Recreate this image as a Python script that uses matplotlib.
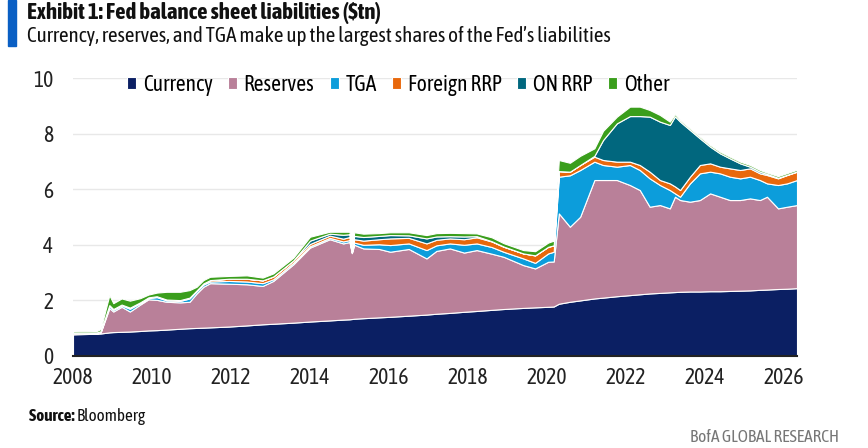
import matplotlib
matplotlib.use("Agg")
import matplotlib.pyplot as plt
from matplotlib.patches import Rectangle
import numpy as np

plt.rcParams['font.family'] = ['Asap Condensed', 'Archivo Narrow', 'DejaVu Sans']

# dates as decimal years
dates = [2008.00, 2008.60, 2008.70, 2008.92, 2009.02, 2009.23, 2009.44, 2009.70, 2009.91,
         2010.12, 2010.37, 2010.71, 2010.95, 2011.13, 2011.30, 2011.47, 2011.95, 2012.40,
         2012.80, 2013.07, 2013.58, 2014.00, 2014.50, 2014.84, 2015.00, 2015.06, 2015.12,
         2015.35, 2015.75, 2016.03, 2016.50, 2016.95, 2017.20, 2017.54, 2017.90, 2018.22,
         2018.60, 2018.90, 2019.40, 2019.70, 2020.03, 2020.17, 2020.30, 2020.58, 2020.84,
         2021.20, 2021.42, 2021.77, 2022.10, 2022.35, 2022.60, 2022.86, 2023.11, 2023.24,
         2023.37, 2023.62, 2023.87, 2024.13, 2024.38, 2024.63, 2024.89, 2025.14, 2025.39,
         2025.57, 2025.85, 2026.08, 2026.33]

# $tn
currency = [0.78, 0.80, 0.81, 0.85, 0.86, 0.87, 0.88, 0.90, 0.92,
            0.93, 0.95, 0.98, 1.00, 1.01, 1.02, 1.03, 1.06, 1.10,
            1.14, 1.16, 1.20, 1.24, 1.28, 1.31, 1.32, 1.33, 1.34,
            1.36, 1.39, 1.41, 1.45, 1.49, 1.52, 1.55, 1.59, 1.62,
            1.66, 1.69, 1.73, 1.75, 1.77, 1.78, 1.88, 1.95, 2.00,
            2.07, 2.10, 2.15, 2.19, 2.22, 2.25, 2.27, 2.29, 2.30,
            2.31, 2.32, 2.32, 2.33, 2.33, 2.34, 2.35, 2.36, 2.38,
            2.39, 2.41, 2.42, 2.44]
reserves = [0.01, 0.01, 0.04, 0.87, 0.74, 0.90, 0.72, 0.95, 1.12,
            1.09, 1.00, 0.95, 0.95, 1.24, 1.47, 1.59, 1.54, 1.48,
            1.38, 1.54, 2.10, 2.66, 2.92, 2.74, 2.78, 2.37, 2.66,
            2.51, 2.46, 2.34, 2.40, 2.02, 2.26, 2.32, 2.13, 2.19,
            2.02, 1.88, 1.54, 1.40, 1.62, 1.62, 3.25, 2.70, 3.01,
            4.26, 4.23, 4.18, 3.96, 3.75, 3.12, 3.16, 3.02, 3.43,
            3.30, 3.23, 3.29, 3.52, 3.40, 3.27, 3.26, 3.31, 3.23,
            3.34, 2.90, 2.95, 2.99]
tga = [0.01, 0.01, 0.01, 0.08, 0.06, 0.05, 0.10, 0.05, 0.04,
       0.10, 0.05, 0.05, 0.12, 0.08, 0.08, 0.06, 0.10, 0.10,
       0.10, 0.06, 0.06, 0.05, 0.05, 0.07, 0.07, 0.02, 0.08,
       0.13, 0.17, 0.24, 0.20, 0.30, 0.20, 0.18, 0.28, 0.24,
       0.24, 0.18, 0.24, 0.20, 0.30, 0.35, 1.32, 1.85, 1.68,
       0.66, 0.54, 0.48, 0.72, 0.72, 1.02, 0.72, 0.66, 0.12,
       0.12, 0.66, 0.96, 0.78, 0.84, 0.84, 0.78, 0.78, 0.72,
       0.48, 0.84, 0.84, 0.90]
foreign_rrp = [0.03, 0.03, 0.03, 0.03, 0.03, 0.03, 0.04, 0.03, 0.03,
               0.03, 0.03, 0.03, 0.03, 0.03, 0.04, 0.05, 0.08, 0.10,
               0.10, 0.10, 0.08, 0.08, 0.08, 0.10, 0.11, 0.01, 0.12,
               0.15, 0.18, 0.24, 0.20, 0.24, 0.20, 0.18, 0.20, 0.22,
               0.20, 0.18, 0.18, 0.27, 0.24, 0.23, 0.20, 0.13, 0.18,
               0.18, 0.18, 0.18, 0.12, 0.18, 0.24, 0.18, 0.24, 0.25,
               0.24, 0.24, 0.30, 0.30, 0.24, 0.30, 0.30, 0.30, 0.24,
               0.30, 0.24, 0.30, 0.30]
on_rrp = [0.00, 0.00, 0.00, 0.00, 0.00, 0.00, 0.00, 0.00, 0.00,
          0.00, 0.00, 0.00, 0.00, 0.00, 0.00, 0.00, 0.00, 0.00,
          0.00, 0.00, 0.00, 0.12, 0.07, 0.14, 0.10, 0.01, 0.12,
          0.13, 0.12, 0.12, 0.09, 0.18, 0.12, 0.08, 0.10, 0.04,
          0.01, 0.01, 0.00, 0.00, 0.00, 0.00, 0.00, 0.00, 0.00,
          0.03, 0.72, 1.38, 1.64, 1.76, 1.98, 2.10, 2.10, 2.52,
          2.46, 1.68, 0.96, 0.60, 0.48, 0.36, 0.24, 0.06, 0.06,
          0.04, 0.02, 0.01, 0.01]
other = [0.05, 0.05, 0.08, 0.36, 0.21, 0.22, 0.25, 0.15, 0.10,
         0.13, 0.28, 0.30, 0.27, 0.13, 0.12, 0.12, 0.10, 0.12,
         0.10, 0.11, 0.10, 0.14, 0.07, 0.11, 0.09, 0.02, 0.13,
         0.12, 0.10, 0.10, 0.11, 0.12, 0.12, 0.12, 0.12, 0.10,
         0.14, 0.12, 0.12, 0.15, 0.15, 0.17, 0.40, 0.32, 0.33,
         0.27, 0.33, 0.24, 0.34, 0.34, 0.24, 0.24, 0.12, 0.08,
         0.06, 0.06, 0.06, 0.06, 0.06, 0.06, 0.06, 0.06, 0.06,
         0.05, 0.06, 0.06, 0.06]

labels = ['Currency', 'Reserves', 'TGA', 'Foreign RRP', 'ON RRP', 'Other']
colors = ['#0b1f63', '#b98099', '#0c9ddb', '#e8680c', '#01677e', '#3a9e1c']
year_ticks = [2008, 2010, 2012, 2014, 2016, 2018, 2020, 2022, 2024, 2026]

fig = plt.figure(figsize=(8.68, 4.48), dpi=100)
ax = fig.add_axes([73 / 868, 1 - 356 / 448, (797 - 73) / 868, (356 - 78) / 448])

ax.stackplot(dates, currency, reserves, tga, foreign_rrp, on_rrp, other,
             labels=labels, colors=colors, edgecolor='white', linewidth=0.8, zorder=2)

ax.set_xlim(2008, 2026.33)
ax.set_ylim(0, 10)
ax.set_yticks([0, 2, 4, 6, 8, 10])
ax.set_xticks(year_ticks)
ax.grid(axis='y', color='#e8e8e8', linewidth=1, zorder=0)
ax.set_axisbelow(True)
for side in ['top', 'right', 'left']:
    ax.spines[side].set_visible(False)
ax.spines['bottom'].set_color('#222222')
ax.spines['bottom'].set_linewidth(1.5)
ax.spines['bottom'].set_zorder(5)
ax.tick_params(axis='both', length=0, labelsize=15.5, colors='#222222')
ax.tick_params(axis='y', pad=14)
ax.tick_params(axis='x', pad=8)

leg = ax.legend(loc='upper left', bbox_to_anchor=(0.048, 1.085), ncol=6, frameon=False,
                fontsize=15.5, handlelength=0.42, handleheight=0.42, handletextpad=0.3,
                columnspacing=0.72)

# header
fig.patches.append(Rectangle((8 / 868, 1 - 46 / 448), 8 / 868, 46 / 448,
                             transform=fig.transFigure, color='#0a5fc4', zorder=3))
fig.text(27 / 868, 1 - 13 / 448, 'Exhibit 1: Fed balance sheet liabilities ($tn)',
         fontsize=16.5, fontweight='bold', va='center', ha='left', color='#111111')
fig.text(27 / 868, 1 - 36 / 448,
         'Currency, reserves, and TGA make up the largest shares of the Fed\u2019s liabilities',
         fontsize=15.2, va='center', ha='left', color='#111111')

# footer
src = fig.text(29 / 868, 1 - 416 / 448, 'Source: ', fontsize=12.3, fontweight='bold',
               va='center', ha='left', color='#111111')
fig.canvas.draw()
bb = src.get_window_extent()
fig.text(bb.x1 / 868, 1 - 416 / 448, 'Bloomberg', fontsize=12.3,
         va='center', ha='left', color='#111111')
fig.text(839 / 868, 1 - 437 / 448, 'BofA GLOBAL RESEARCH', fontsize=12.5,
         va='center', ha='right', color='#777777')

fig.savefig('out.png', dpi=100)
